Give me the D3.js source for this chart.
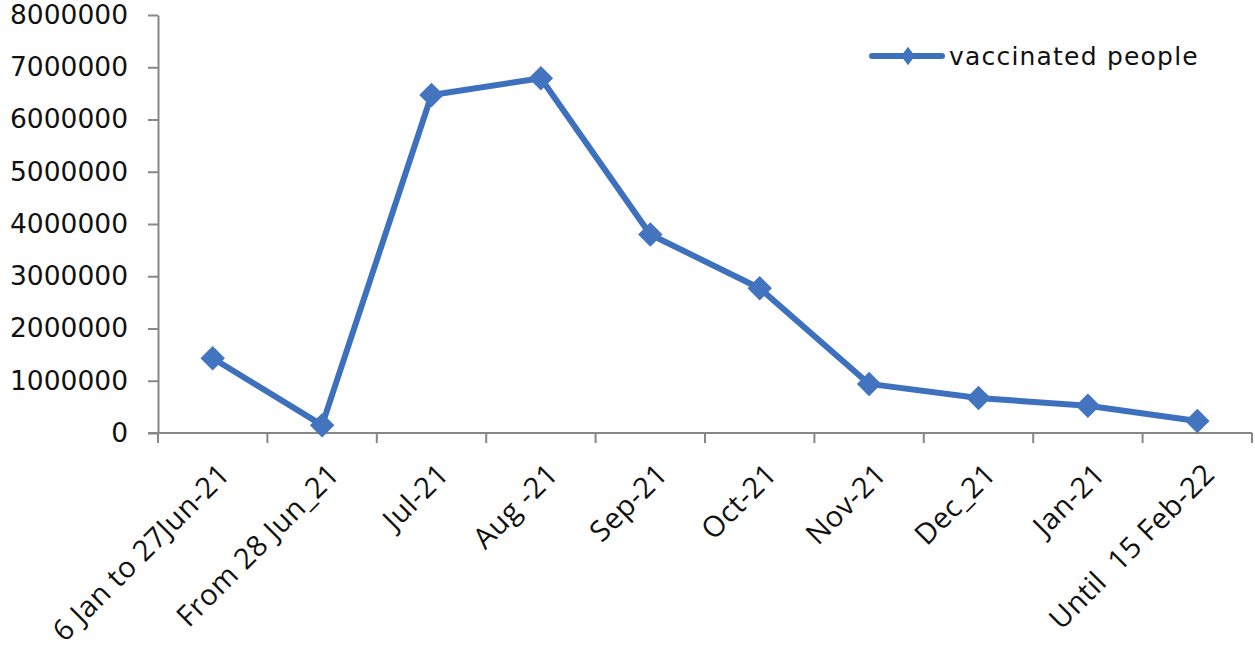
<!DOCTYPE html>
<html>
<head>
<meta charset="utf-8">
<script src="https://cdnjs.cloudflare.com/ajax/libs/d3/7.8.5/d3.min.js"></script>
<style>
  body { margin: 0; background: #fff; }
  .axis path, .axis line { stroke: #878787; stroke-width: 2px; }
  .axis-y text { font-family: "DejaVu Sans", sans-serif; font-size: 26.5px; fill: #111; }
  .axis-x text { font-family: "Open Sans", sans-serif; font-size: 29px; letter-spacing: 0.5px; fill: #111; white-space: pre; }
</style>
</head>
<body>
<div id="chart"></div>
<script>
var categories = ["6 Jan to 27Jun-21", "From 28 Jun_21", "Jul-21", "Aug -21", "Sep-21",
                  "Oct-21", "Nov-21", "Dec_21", "Jan-21", "Until  15 Feb-22"],
    vaccinated = [1430000, 150000, 6470000, 6790000, 3800000, 2770000, 940000, 670000, 520000, 230000],
    yTicks = [0, 1000000, 2000000, 3000000, 4000000, 5000000, 6000000, 7000000, 8000000],
    seriesName = "vaccinated people";

var width = 1255, height = 655,
    margin = {top: 15, right: 3, bottom: 222, left: 158},
    innerW = width - margin.left - margin.right,
    innerH = height - margin.top - margin.bottom;

var svg = d3.select("#chart").append("svg")
    .attr("width", width)
    .attr("height", height)
  .append("g")
    .attr("transform", "translate(" + margin.left + "," + margin.top + ")");

var x = d3.scaleBand()
    .domain(categories)
    .range([0, innerW]);

var y = d3.scaleLinear()
    .domain([0, 8000000])
    .range([innerH, 0]);

// y axis, ticks point outwards
svg.append("g")
    .attr("class", "axis axis-y")
    .call(d3.axisLeft(y).tickValues(yTicks).tickSizeInner(10).tickSizeOuter(0).tickPadding(20).tickFormat(d3.format("d")));

// x axis, ticks at band boundaries
var xAxis = svg.append("g")
    .attr("class", "axis axis-x")
    .attr("transform", "translate(0," + innerH + ")");

xAxis.append("line")
    .attr("x1", -10).attr("x2", innerW)
    .attr("y1", 0).attr("y2", 0);

xAxis.selectAll(".tick-b")
    .data(categories.concat([null]))
  .enter().append("line")
    .attr("class", "tick-b")
    .attr("x1", function(d, i) { return i * x.step(); })
    .attr("x2", function(d, i) { return i * x.step(); })
    .attr("y1", 0).attr("y2", 10);

xAxis.selectAll("text")
    .data(categories)
  .enter().append("text")
    .attr("text-anchor", "end")
    .attr("transform", function(d) {
      return "translate(" + (x(d) + x.bandwidth() / 2 + 19) + ",43) rotate(-45)";
    })
    .text(function(d) { return d; });

var line = d3.line()
    .x(function(d, i) { return x(categories[i]) + x.bandwidth() / 2; })
    .y(function(d) { return y(d); });

svg.append("path")
    .datum(vaccinated)
    .attr("fill", "none")
    .attr("stroke", "#3d70bd")
    .attr("stroke-width", 6)
    .attr("stroke-linejoin", "round")
    .attr("d", line);

svg.selectAll(".pt")
    .data(vaccinated)
  .enter().append("path")
    .attr("class", "pt")
    .attr("fill", "#4374c0")
    .attr("transform", function(d, i) {
      return "translate(" + (x(categories[i]) + x.bandwidth() / 2) + "," + y(d) + ") rotate(45)";
    })
    .attr("d", d3.symbol().type(d3.symbolSquare).size(300));

// legend
var legend = svg.append("g")
    .attr("transform", "translate(" + (872 - margin.left) + "," + (56 - margin.top) + ")");

legend.append("line")
    .attr("x1", 0).attr("x2", 70)
    .attr("stroke", "#3d70bd")
    .attr("stroke-width", 6)
    .attr("stroke-linecap", "round");

legend.append("path")
    .attr("fill", "#4374c0")
    .attr("transform", "translate(36,0) scale(0.75,1) rotate(45)")
    .attr("d", d3.symbol().type(d3.symbolSquare).size(170));

legend.append("text")
    .attr("x", 77)
    .attr("dy", "0.35em")
    .style("font-family", "\"DejaVu Sans\", sans-serif")
    .style("font-size", "25px")
    .style("letter-spacing", "1.2px")
    .style("fill", "#111")
    .text(seriesName);
</script>
</body>
</html>
